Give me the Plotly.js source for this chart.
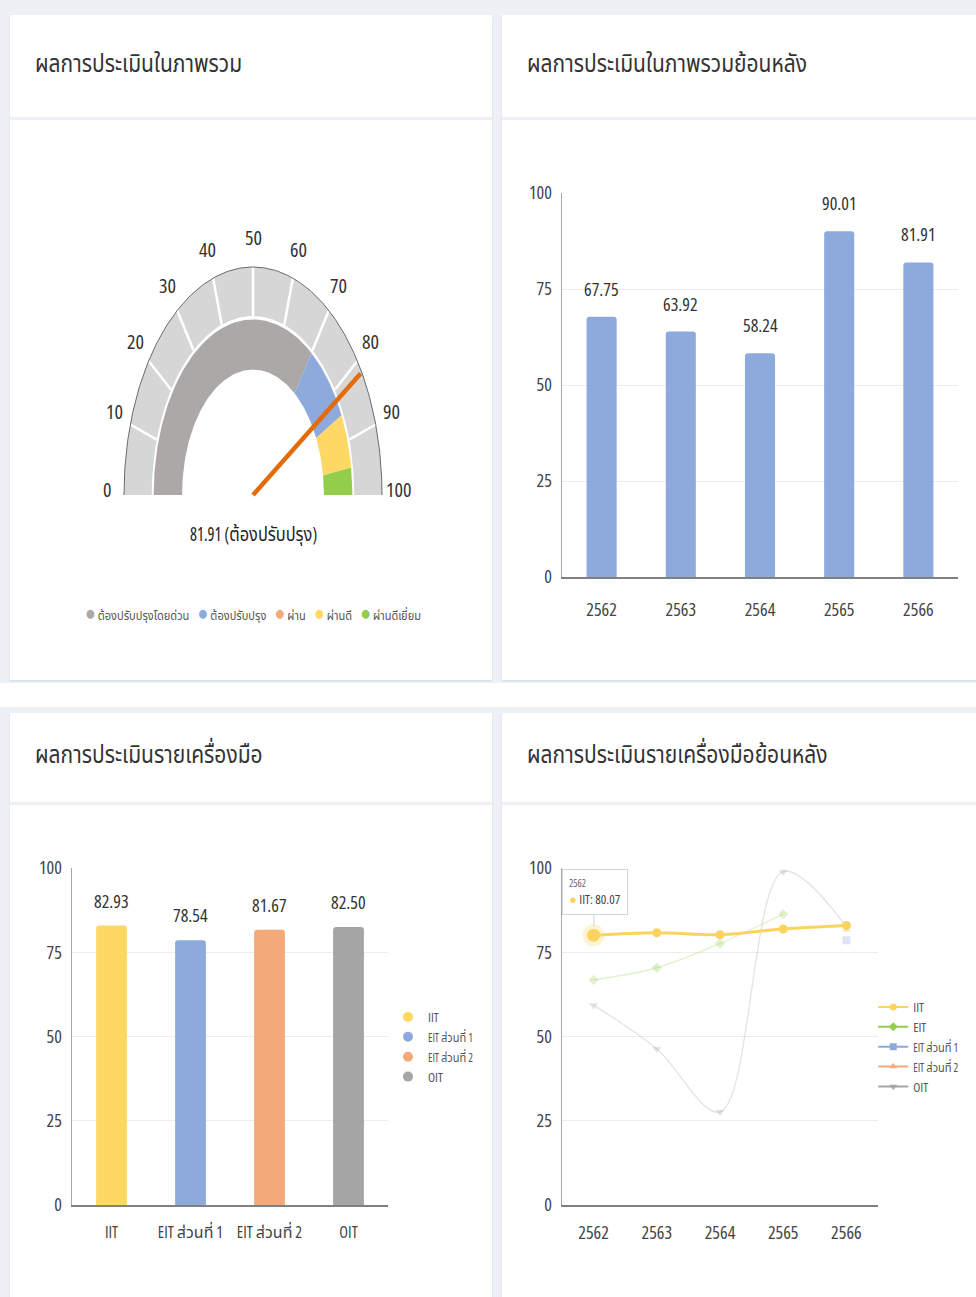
<!DOCTYPE html>
<html>
<head>
<meta charset="utf-8">
<script src="https://cdn.plot.ly/plotly-3.0.1.min.js"></script>
<style>
  html, body { margin:0; padding:0; background:#ffffff; width:976px; height:1297px; overflow:hidden; position:relative;
    font-family: "Open Sans","Noto Sans Thai","Noto Sans",sans-serif; font-stretch:75%; }
  .band { position:absolute; left:0; width:976px; background:#edf0f4; }
  .card { position:absolute; background:#ffffff; box-shadow:0 1px 2px rgba(0,0,0,0.10); }
  .hdr { position:absolute; left:0; right:0; top:0; border-bottom:3px solid #eef0f3; }
  .title { position:absolute; left:25px; font-size:25px; color:#333; white-space:nowrap; line-height:30px;
    transform:scaleX(0.84); transform-origin:left center; }
  .chart { position:absolute; }
  .main-svg text { font-stretch:75% !important; }
</style>
</head>
<body>
<div class="band" style="top:0;height:683px;"></div>
<div class="band" style="top:707px;height:590px;"></div>

<div class="card" style="left:10px;top:15px;width:482px;height:665px;">
  <div class="hdr" style="height:102px;"><div class="title" style="top:32px;">ผลการประเมินในภาพรวม</div></div>
</div>
<div class="card" style="left:502px;top:15px;width:480px;height:665px;">
  <div class="hdr" style="height:102px;"><div class="title" style="top:32px;">ผลการประเมินในภาพรวมย้อนหลัง</div></div>
</div>
<div class="card" style="left:10px;top:713px;width:482px;height:590px;">
  <div class="hdr" style="height:89px;"><div class="title" style="top:25px;">ผลการประเมินรายเครื่องมือ</div></div>
</div>
<div class="card" style="left:502px;top:713px;width:480px;height:590px;">
  <div class="hdr" style="height:89px;"><div class="title" style="top:25px;">ผลการประเมินรายเครื่องมือย้อนหลัง</div></div>
</div>

<div id="gauge" class="chart" style="left:10px;top:120px;width:482px;height:560px;"></div>
<div id="yearly" class="chart" style="left:502px;top:120px;width:474px;height:560px;"></div>
<div id="tools" class="chart" style="left:10px;top:803px;width:482px;height:494px;"></div>
<div id="toolsYearly" class="chart" style="left:502px;top:803px;width:474px;height:494px;"></div>

<script>
const FONT = '"Open Sans","Noto Sans Thai","Noto Sans",sans-serif';

// ---------- Data ----------
// Gauge: overall result
const gaugeBands  = ['ต้องปรับปรุงโดยด่วน', 'ต้องปรับปรุง', 'ผ่าน', 'ผ่านดี', 'ผ่านดีเยี่ยม'];
const gaugeColors = ['#aca8a8', '#8eaadc', '#f4a97a', '#fdd865', '#92cd4c'];
const gaugeLimits = [0, 70, 85, 85, 95, 100];
const gaugeTicks  = [0, 10, 20, 30, 40, 50, 60, 70, 80, 90, 100];
const overallScore  = 81.91;
const overallStatus = 'ต้องปรับปรุง';

// Overall result by year
const years = [2562, 2563, 2564, 2565, 2566];
const overallByYear = [67.75, 63.92, 58.24, 90.01, 81.91];

// Result by tool
const tools = ['IIT', 'EIT ส่วนที่ 1', 'EIT ส่วนที่ 2', 'OIT'];
const toolScores = [82.93, 78.54, 81.67, 82.50];
const toolColors = ['#fdd865', '#8eaadc', '#f4a97a', '#a5a5a5'];

// Result by tool by year
const seriesNames = ['IIT', 'EIT', 'EIT ส่วนที่ 1', 'EIT ส่วนที่ 2', 'OIT'];
const iitByYear  = [80.07, 80.8, 80.2, 81.9, 82.93];
const eitByYear  = [66.8, 70.4, 77.6, 86.3, null];
const eit1ByYear = [null, null, null, null, 78.54];
const eit2ByYear = [null, null, null, null, 81.67];
const oitByYear  = [59.3, 46.3, 27.6, 98.9, 82.50];
const tooltipYearIndex = 0;

// ---------- Common ----------
const cfg = {staticPlot: true, displayModeBar: false};
const clear = 'rgba(0,0,0,0)';
const THAI = /[\u0E00-\u0E7F]/;
const yearAxis = {
  type: 'linear', range: [years[0] - 0.5, years[years.length - 1] + 0.5],
  tickvals: years, ticktext: years.map(String), showline: true, linecolor: '#808080', linewidth: 2,
  ticks: '', showgrid: false, zeroline: false
};
function condense(id, selector, factor, origin, filter) {
  document.querySelectorAll('#' + id + ' ' + selector).forEach(el => {
    if (!THAI.test(el.textContent)) return;
    if (filter && !filter(el.textContent)) return;
    el.style.transformBox = 'fill-box';
    el.style.transformOrigin = origin;
    el.style.transform = 'scaleX(' + factor + ')';
  });
}

// ---------- Gauge ----------
(function () {
  const ang = v => Math.PI * (1 - v / 100);
  const pt = (v, r) => [r * Math.cos(ang(v)), r * Math.sin(ang(v))];
  function arcPoly(v0, v1, rIn, rOut) {
    const xs = [], ys = [];
    const n = Math.max(2, Math.ceil((v1 - v0) / 0.5));
    for (let i = 0; i <= n; i++) { const p = pt(v0 + (v1 - v0) * i / n, rOut); xs.push(p[0]); ys.push(p[1]); }
    for (let i = n; i >= 0; i--) { const p = pt(v0 + (v1 - v0) * i / n, rIn); xs.push(p[0]); ys.push(p[1]); }
    xs.push(xs[0]); ys.push(ys[0]);
    return {xs, ys};
  }
  const traces = [];
  const ring = arcPoly(0, 100, 0.785, 1.0);
  traces.push({x: ring.xs, y: ring.ys, mode: 'lines', fill: 'toself', fillcolor: '#d6d6d6',
    line: {width: 0, color: '#d6d6d6'}, showlegend: false, hoverinfo: 'skip'});
  const sx = [], sy = [];
  gaugeTicks.slice(1, -1).forEach(t => {
    const a = pt(t, 0.785), b = pt(t, 1.0);
    sx.push(a[0], b[0], null); sy.push(a[1], b[1], null);
  });
  traces.push({x: sx, y: sy, mode: 'lines', line: {color: '#ffffff', width: 2.5}, showlegend: false, hoverinfo: 'skip'});
  const ex = [], ey = [];
  for (let v = 0; v <= 100; v += 0.5) { const p = pt(v, 1.0); ex.push(p[0]); ey.push(p[1]); }
  traces.push({x: ex, y: ey, mode: 'lines', line: {color: '#6a6a6a', width: 1}, showlegend: false, hoverinfo: 'skip'});
  gaugeBands.forEach((name, i) => {
    const v0 = gaugeLimits[i], v1 = gaugeLimits[i + 1];
    if (v1 - v0 <= 0) return;
    const p = arcPoly(v0, v1, 0.55, 0.77);
    traces.push({x: p.xs, y: p.ys, mode: 'lines', fill: 'toself', fillcolor: gaugeColors[i], name: name,
      line: {width: 0, color: gaugeColors[i]}, showlegend: false, hoverinfo: 'skip'});
  });
  const tip = pt(overallScore, 0.99);
  traces.push({x: [0, tip[0]], y: [0, tip[1]], mode: 'lines', line: {color: '#e36c0a', width: 4.5},
    showlegend: false, hoverinfo: 'skip'});
  const ann = gaugeTicks.map(t => {
    const p = pt(t, 1.13);
    return {x: p[0], y: p[1], text: String(t), showarrow: false, xanchor: 'center', yanchor: 'middle',
      yshift: 6 * (1 - Math.sin(ang(t))), font: {size: 20, color: '#333', family: FONT}};
  });
  ann.push({x: 0, y: -0.171, text: overallScore.toFixed(2) + ' (' + overallStatus + ')', showarrow: false,
    xanchor: 'center', yanchor: 'middle', font: {size: 20, color: '#222', family: FONT}});
  const legendText = gaugeBands.map((n, i) =>
    '<span style="color:' + gaugeColors[i] + ';font-size:21px">●</span> ' + n).join('\u00a0\u00a0\u00a0\u00a0');
  ann.push({x: 0, y: -0.513, text: legendText, showarrow: false, xanchor: 'center', yanchor: 'middle',
    font: {size: 13, color: '#555', family: FONT}});
  Plotly.newPlot('gauge', traces, {
    width: 482, height: 560, margin: {l: 0, r: 0, t: 0, b: 0},
    paper_bgcolor: clear, plot_bgcolor: clear,
    xaxis: {range: [-1.8837, 1.8527], visible: false},
    yaxis: {range: [-0.8114, 1.6447], visible: false},
    showlegend: false, annotations: ann, font: {family: FONT}
  }, cfg).then(() => {
    condense('gauge', 'text.annotation-text', 0.82, 'center', s => s.indexOf('●') < 0);
    condense('gauge', 'text.annotation-text', 0.85, 'center', s => s.indexOf('●') >= 0);
  });
})();

// ---------- Overall by year ----------
(function () {
  const tickFont = {size: 18, color: '#444', family: FONT};
  Plotly.newPlot('yearly', [{
    type: 'bar', x: years, y: overallByYear, width: 0.38, marker: {color: '#8eaadc'}, hoverinfo: 'skip'
  }], {
    width: 474, height: 560, margin: {l: 60, r: 18, t: 73, b: 103, autoexpand: false},
    paper_bgcolor: clear, plot_bgcolor: clear, barcornerradius: 3, showlegend: false,
    xaxis: Object.assign({}, yearAxis, {tickfont: tickFont, ticklabelstandoff: 15}),
    yaxis: {range: [0, 100], tickvals: [0, 25, 50, 75, 100], showline: true, linecolor: '#a8a8a8', linewidth: 1.5,
      gridcolor: '#ececec', zeroline: false, tickfont: tickFont, ticklabelstandoff: 5},
    annotations: years.map((y, i) => ({x: y, y: overallByYear[i], text: overallByYear[i].toFixed(2), showarrow: false,
      yanchor: 'middle', yshift: 28, font: {size: 18, color: '#333', family: FONT}})),
    font: {family: FONT}
  }, cfg);
})();

// ---------- By tool ----------
(function () {
  const tickFont = {size: 18, color: '#444', family: FONT};
  const traces = [{type: 'bar', x: tools, y: toolScores, marker: {color: toolColors}, showlegend: false, hoverinfo: 'skip'}];
  tools.forEach((t, i) => traces.push({x: [null], y: [null], mode: 'markers', name: t,
    marker: {symbol: 'circle', size: 10, color: toolColors[i]}, showlegend: true}));
  Plotly.newPlot('tools', traces, {
    width: 482, height: 494, margin: {l: 62, r: 104, t: 65, b: 92, autoexpand: false},
    paper_bgcolor: clear, plot_bgcolor: clear, bargap: 0.61, barcornerradius: 3,
    xaxis: {type: 'category', showline: true, linecolor: '#808080', linewidth: 2, ticks: '',
      tickfont: {size: 16, color: '#444', family: FONT}, ticklabelstandoff: 12, showgrid: false, tickangle: 0},
    yaxis: {range: [0, 100], tickvals: [0, 25, 50, 75, 100], showline: true, linecolor: '#a8a8a8', linewidth: 1.5,
      gridcolor: '#ececec', zeroline: false, tickfont: tickFont, ticklabelstandoff: 5},
    legend: {x: 1.0, xanchor: 'left', y: 0.469, yanchor: 'middle', font: {size: 13, color: '#555', family: FONT},
      itemwidth: 30, bgcolor: clear, tracegroupgap: 0},
    annotations: tools.map((t, i) => ({x: t, y: toolScores[i], text: toolScores[i].toFixed(2), showarrow: false,
      yanchor: 'middle', yshift: 25, font: {size: 18, color: '#333', family: FONT}})),
    font: {family: FONT}
  }, cfg).then(() => condense('tools', 'text.legendtext', 0.85, 'left center'));
})();

// ---------- By tool by year ----------
(function () {
  const tickFont = {size: 18, color: '#444', family: FONT};
  const full = ['#fcd35e', '#92cd4c', '#8eaadc', '#f4a97a', '#a5a5a5'];
  const faded = ['#fcd35e', 'rgba(146,205,76,0.28)', 'rgba(142,170,220,0.3)', 'rgba(244,169,122,0.3)', 'rgba(165,165,165,0.3)'];
  const symbols = ['circle', 'diamond', 'square', 'triangle-up', 'triangle-down'];
  const data = [iitByYear, eitByYear, eit1ByYear, eit2ByYear, oitByYear];
  const traces = [];
  [4, 3, 2, 1].forEach(i => traces.push({
    x: years, y: data[i], mode: 'lines+markers', name: seriesNames[i], showlegend: false, hoverinfo: 'skip',
    line: {color: faded[i], width: 1.3, shape: 'spline', smoothing: 1}, connectgaps: false,
    marker: {symbol: symbols[i], size: 8, color: faded[i]}
  }));
  traces.push({
    x: years, y: iitByYear, mode: 'lines+markers', name: 'IIT', showlegend: false, hoverinfo: 'skip',
    line: {color: full[0], width: 3, shape: 'spline', smoothing: 1},
    marker: {symbol: 'circle', size: 9, color: full[0]}
  });
  traces.push({x: [years[tooltipYearIndex]], y: [iitByYear[tooltipYearIndex]], mode: 'markers', showlegend: false,
    hoverinfo: 'skip', marker: {symbol: 'circle', size: 22, color: 'rgba(253,216,101,0.28)'}});
  traces.push({x: [years[tooltipYearIndex]], y: [iitByYear[tooltipYearIndex]], mode: 'markers', showlegend: false,
    hoverinfo: 'skip', marker: {symbol: 'circle', size: 13, color: full[0]}});
  seriesNames.forEach((n, i) => traces.push({x: [null], y: [null], mode: 'lines+markers', name: n, showlegend: true,
    line: {color: full[i], width: 2}, marker: {symbol: symbols[i], size: 7, color: full[i]}}));
  Plotly.newPlot('toolsYearly', traces, {
    width: 474, height: 494, margin: {l: 60, r: 98, t: 65, b: 92, autoexpand: false},
    paper_bgcolor: clear, plot_bgcolor: clear,
    xaxis: Object.assign({}, yearAxis, {tickfont: tickFont, ticklabelstandoff: 10}),
    yaxis: {range: [0, 100], tickvals: [0, 25, 50, 75, 100], showline: true, linecolor: '#a8a8a8', linewidth: 1.5,
      gridcolor: '#ececec', zeroline: false, tickfont: tickFont, ticklabelstandoff: 5},
    legend: {x: 0.985, xanchor: 'left', y: 0.469, yanchor: 'middle', font: {size: 13, color: '#555', family: FONT},
      itemwidth: 30, bgcolor: clear, tracegroupgap: 0},
    annotations: [{
      x: years[tooltipYearIndex], y: iitByYear[tooltipYearIndex], xref: 'x', yref: 'y',
      text: '<span style="font-size:10px;color:#666">' + years[tooltipYearIndex] + '</span><br>' +
            '<span style="color:#fcd35e">●</span> IIT: ' + iitByYear[tooltipYearIndex].toFixed(2),
      align: 'left', showarrow: true, arrowhead: 0, arrowcolor: '#d0d0d0', arrowwidth: 1, standoff: 9,
      ax: 1, ay: -43, bgcolor: '#ffffff', bordercolor: '#d6d6d6', borderwidth: 1, borderpad: 6,
      font: {size: 13, color: '#444', family: FONT}
    }],
    font: {family: FONT}
  }, cfg).then(() => condense('toolsYearly', 'text.legendtext', 0.85, 'left center'));
})();
</script>
</body>
</html>
